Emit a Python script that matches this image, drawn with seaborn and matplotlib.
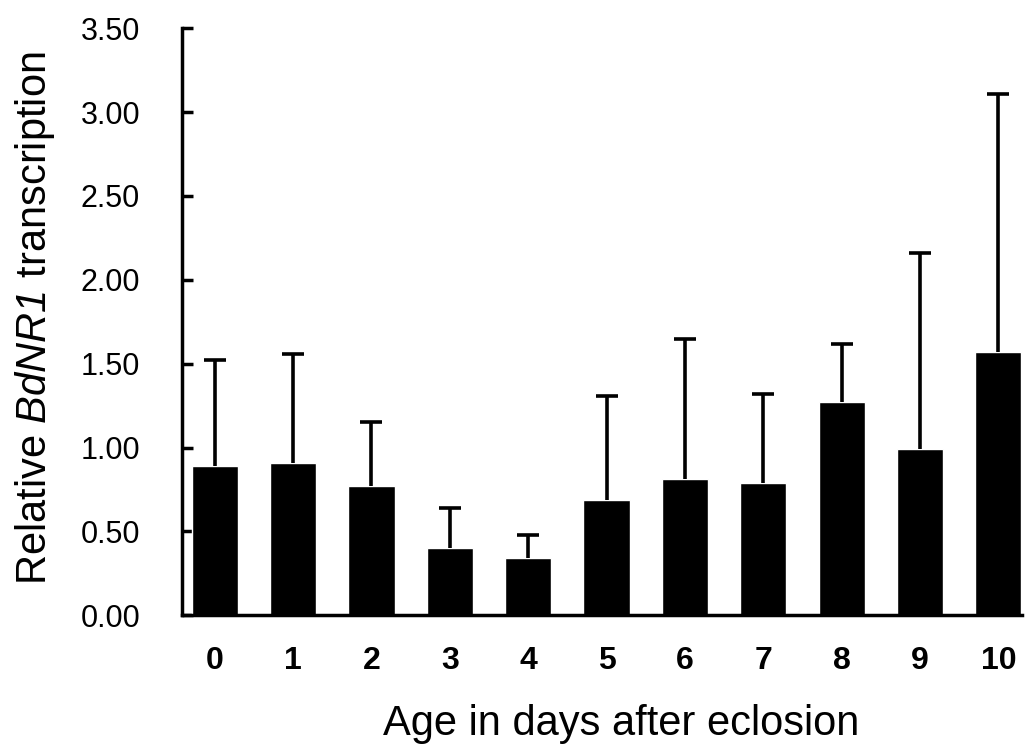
import matplotlib
matplotlib.use("Agg")
import matplotlib.pyplot as plt
import seaborn as sns
import numpy as np
import pandas as pd

days = ["0", "1", "2", "3", "4", "5", "6", "7", "8", "9", "10"]
means = [0.89, 0.91, 0.77, 0.40, 0.34, 0.69, 0.81, 0.79, 1.27, 0.99, 1.57]
upper = [1.52, 1.56, 1.15, 0.64, 0.48, 1.31, 1.65, 1.32, 1.62, 2.16, 3.11]
yticks = [0.0, 0.5, 1.0, 1.5, 2.0, 2.5, 3.0, 3.5]

sns.set_theme(style="white")
plt.rcParams['font.family'] = ['Liberation Sans', 'DejaVu Sans']
plt.rcParams['mathtext.fontset'] = 'custom'
plt.rcParams['mathtext.it'] = 'Liberation Sans:italic'
plt.rcParams['mathtext.rm'] = 'Liberation Sans:italic'
for k in ['text.color', 'axes.labelcolor', 'xtick.color', 'ytick.color']:
    plt.rcParams[k] = 'black'

df = pd.DataFrame({"day": days, "mean": means})
fig = plt.figure(figsize=(10.27, 7.44), dpi=100)
ax = fig.add_axes([0.177, 0.173, 0.818, 0.789])

sns.barplot(data=df, x="day", y="mean", color="black", width=0.59,
            saturation=1, errorbar=None, ax=ax, order=days)
err = np.array(upper) - np.array(means)
eb = ax.errorbar(np.arange(len(days)), means, yerr=[np.zeros(len(days)), err],
                 fmt="none", ecolor="black", elinewidth=2.6, capsize=8, capthick=2.6, zorder=3)
eb[1][0].set_visible(False)  # hide lower caps

ax.set_xlim(-0.42, 10.3)
ax.set_ylim(0, 3.5)
ax.set_yticks(yticks)
ax.set_yticklabels([f"{v:.2f}" for v in yticks], fontsize=22)
ax.set_xticks(np.arange(len(days)))
ax.set_xticklabels(days, fontsize=23, fontweight="bold")
for s in ["top", "right"]:
    ax.spines[s].set_visible(False)
for s in ["left", "bottom"]:
    ax.spines[s].set_color("black")
    ax.spines[s].set_linewidth(2.5)
ax.tick_params(axis="y", direction="in", length=8, width=2.5, color="black", pad=30, left=True)
ax.tick_params(axis="x", length=0, pad=22)
ax.set_xlabel("Age in days after eclosion", fontsize=30)
ax.set_ylabel(r"Relative $BdNR1$ transcription", fontsize=30)
ax.xaxis.label.set_va("baseline")
ax.xaxis.set_label_coords(0.523, -0.204)
ax.yaxis.label.set_va("center")
ax.yaxis.set_label_coords(-0.175, 0.506)
ax.grid(False)
fig.savefig("out.png", dpi=100)
